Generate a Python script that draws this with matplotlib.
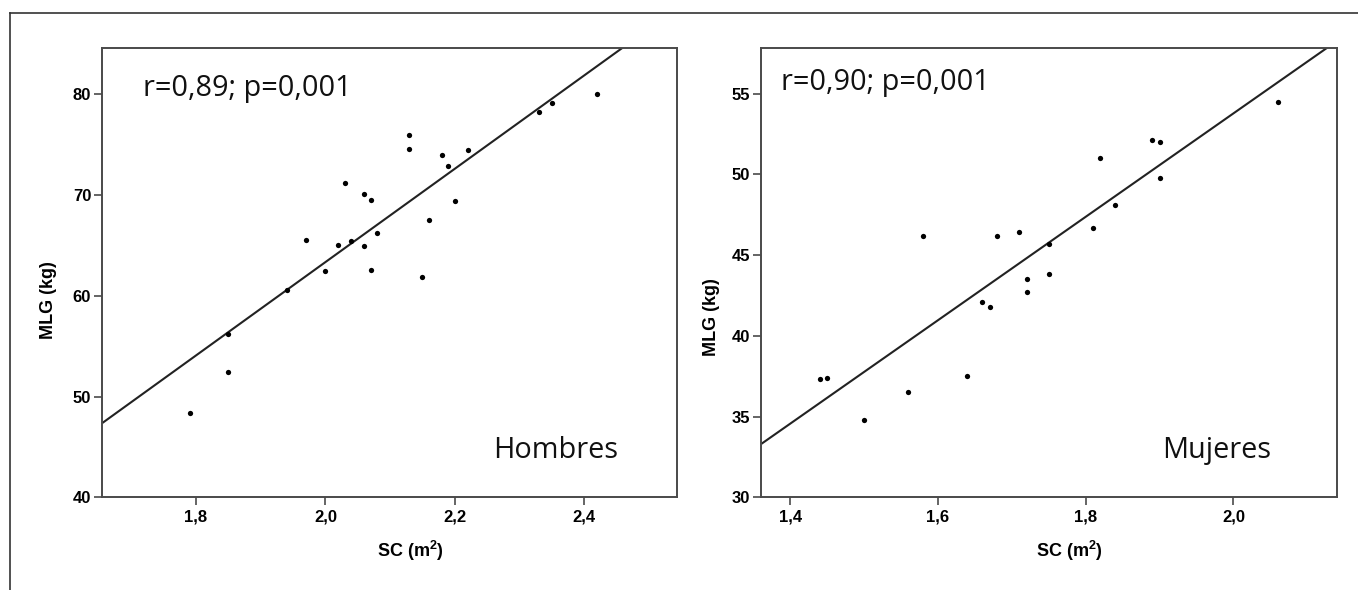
import matplotlib
matplotlib.use("Agg")
import matplotlib.pyplot as plt
from matplotlib.lines import Line2D
import numpy as np

plt.rcParams["mathtext.fontset"] = "custom"
plt.rcParams["mathtext.rm"] = "Liberation Sans"
plt.rcParams["mathtext.bf"] = "Liberation Sans:bold"

# ---- data ----
men_sc = [1.79, 1.85, 1.85, 1.94, 1.97, 2.00, 2.02, 2.03, 2.04, 2.06, 2.06, 2.07, 2.07,
          2.08, 2.13, 2.13, 2.15, 2.16, 2.18, 2.19, 2.20, 2.22, 2.33, 2.35, 2.42]
men_mlg = [48.4, 52.4, 56.2, 60.6, 65.5, 62.5, 65.0, 71.2, 65.4, 70.1, 64.9, 69.5, 62.6,
           66.2, 76.0, 74.6, 61.9, 67.5, 74.0, 72.9, 69.4, 74.5, 78.2, 79.1, 80.0]
women_sc = [1.44, 1.45, 1.50, 1.56, 1.58, 1.64, 1.66, 1.67, 1.68, 1.71, 1.72, 1.72,
            1.75, 1.75, 1.81, 1.82, 1.84, 1.89, 1.90, 1.90, 2.06]
women_mlg = [37.3, 37.4, 34.8, 36.5, 46.2, 37.5, 42.1, 41.8, 46.2, 46.4, 43.5, 42.7,
             45.7, 43.8, 46.7, 51.0, 48.1, 52.1, 52.0, 49.8, 54.5]

# fitted lines (intercept, slope)
men_fit = (-29.24, 46.29)
women_fit = (-10.27, 32.02)

men_stats = "r=0,89; p=0,001"
women_stats = "r=0,90; p=0,001"
men_title = "Hombres"
women_title = "Mujeres"

men_xticks = [1.8, 2.0, 2.2, 2.4]
men_yticks = [40, 50, 60, 70, 80]
women_xticks = [1.4, 1.6, 1.8, 2.0]
women_yticks = [30, 35, 40, 45, 50, 55]

xlabel = r"SC (m$^{\mathbf{2}}$)"
ylabel = "MLG (kg)"

# ---- figure ----
W, H = 1358, 590
fig = plt.figure(figsize=(W / 100, H / 100), dpi=100)
fig.patch.set_facecolor("white")

# outer frame (only left/top visible in the reference)
frame_c = "#333333"
fig.add_artist(Line2D([10 / W, 10 / W], [0, 1 - 13 / H], transform=fig.transFigure,
                      color=frame_c, lw=1.2))
fig.add_artist(Line2D([10 / W, 1], [1 - 13 / H, 1 - 13 / H], transform=fig.transFigure,
                      color=frame_c, lw=1.2))

spine_c = "#4a4a4a"
tick_font = dict(family=["Liberation Sans", "DejaVu Sans"], weight="bold", size=12)
label_font = dict(family=["Liberation Sans", "DejaVu Sans"], weight="bold", size=13)
note_font = dict(family=["Open Sans", "DejaVu Sans"], size=20.8, color="#111111")


def make_panel(rect, xs, ys, fit, xlim, ylim, xticks, yticks, stats, stats_pos,
               title, title_pos, ylab_pos, xlab_pos):
    ax = fig.add_axes(rect)
    ax.set_xlim(*xlim)
    ax.set_ylim(*ylim)
    lx = np.array(xlim)
    ax.plot(lx, fit[0] + fit[1] * lx, color="#222222", lw=1.5, solid_capstyle="butt")
    ax.plot(xs, ys, linestyle="none", marker="o", markersize=3.8, color="black",
            markeredgewidth=0)
    ax.set_xticks(xticks)
    ax.set_yticks(yticks)
    ax.set_xticklabels([f"{v:.1f}".replace(".", ",") for v in xticks], **tick_font)
    ax.set_yticklabels([f"{v:d}" for v in yticks], **tick_font)
    ax.tick_params(axis="both", direction="out", length=6, width=1.2, color=spine_c)
    ax.tick_params(axis="x", pad=3)
    ax.tick_params(axis="y", pad=2)
    for s in ax.spines.values():
        s.set_color(spine_c)
        s.set_linewidth(1.4)
    ax.set_ylabel(ylabel, va="center", ha="center", **label_font)
    ax.yaxis.set_label_coords(*ylab_pos)
    ax.set_xlabel(xlabel, va="center", ha="center", **label_font)
    ax.xaxis.set_label_coords(*xlab_pos)
    ax.text(stats_pos[0], stats_pos[1], stats, transform=ax.transAxes,
            ha="left", va="baseline", **note_font)
    ax.text(title_pos[0], title_pos[1], title, transform=ax.transAxes,
            ha="left", va="baseline", **note_font)
    return ax


make_panel([102.3 / W, 1 - 497.3 / H, 574.4 / W, 449 / H],
           men_sc, men_mlg, men_fit, (1.655, 2.5433), (40, 84.56),
           men_xticks, men_yticks, men_stats, (0.071, 0.894),
           men_title, (0.680, 0.0866), (-0.093, 0.439), (0.537, -0.12))

make_panel([761.3 / W, 1 - 497.3 / H, 575.4 / W, 449 / H],
           women_sc, women_mlg, women_fit, (1.3609, 2.1398), (30, 57.8),
           women_xticks, women_yticks, women_stats, (0.035, 0.908),
           women_title, (0.696, 0.0866), (-0.086, 0.402), (0.536, -0.12))

fig.savefig("out.png", dpi=100, facecolor="white")
